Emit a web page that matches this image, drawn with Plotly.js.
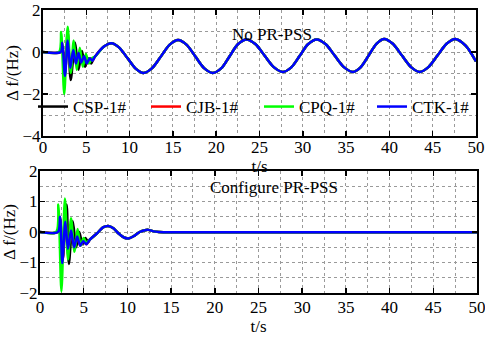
<!DOCTYPE html>
<html><head><meta charset="utf-8">
<script src="https://cdn.plot.ly/plotly-3.0.1.min.js"></script>
<style>body{margin:0;padding:0;background:#fff}#chart{width:485px;height:338px}</style>
</head><body><div id="chart"></div>
<script>
// ---------- Data ----------
const seriesNames = ["CSP-1#", "CJB-1#", "CPQ-1#", "CTK-1#"];
const seriesColors = ["#000000", "#ff0000", "#00ff00", "#0000ff"];

// Top panel (No PR-PSS): transient part of each unit
const topCSP_t = [0, 2.0, 2.25, 2.55, 2.85, 3.2, 3.7, 4.1, 4.5, 4.85, 5.2, 5.55, 5.9];
const topCSP_v = [0, 0, 0.3, -1.0, 0.95, -1.33, 0.45, -0.85, 0.05, -0.7, -0.3, -0.55, -0.25];
const topCJB_t = [0, 2.0, 2.22, 2.52, 2.85, 3.15, 3.5, 3.85, 4.15, 4.45, 4.8, 5.1, 5.45, 5.75];
const topCJB_v = [0, 0, 0.45, -1.1, 0.55, -0.75, 0.08, -0.55, -0.05, -0.5, -0.2, -0.55, -0.3, -0.4];
const topCPQ_t = [0, 1.85, 2.1, 2.45, 2.85, 3.2, 3.55, 3.9, 4.25, 4.6, 4.95, 5.3, 5.65];
const topCPQ_v = [0, 0, 0.95, -2.0, 1.2, -1.0, 0.55, -0.85, 0.2, -0.7, -0.1, -0.55, -0.3];
const topCTK_t = [0, 2.05, 2.23, 2.54, 2.85, 3.15, 3.5, 3.8, 4.1, 4.4, 4.75, 5.05, 5.4, 5.7];
const topCTK_v = [0, 0, 0.44, -1.14, 0.55, -0.75, 0.1, -0.55, -0.05, -0.5, -0.2, -0.55, -0.3, -0.42];
// Top panel: common low-frequency oscillation after ~6 s
const topTail_t = [6.0, 7.0, 7.9, 8.8, 9.75, 10.7, 11.6, 12.6, 13.6, 14.6, 15.6, 16.6, 17.6, 18.6, 19.6,
  20.6, 21.55, 22.5, 23.5, 24.55, 25.6, 26.65, 27.7, 28.7, 29.65, 30.6, 31.6, 32.65, 33.7, 34.75, 35.8,
  36.7, 37.6, 38.5, 39.4, 40.4, 41.45, 42.5, 43.5, 44.5, 45.55, 46.6, 47.6, 48.8, 50.0];
const topTail_v = [-0.22, 0.25, 0.42, 0.21, -0.29, -0.79, -1.0, -0.77, -0.22, 0.34, 0.57, 0.34, -0.22, -0.77, -1.0,
  -0.77, -0.2, 0.37, 0.6, 0.37, -0.18, -0.72, -0.95, -0.72, -0.18, 0.37, 0.6, 0.37, -0.18, -0.72, -0.95,
  -0.72, -0.17, 0.39, 0.62, 0.39, -0.17, -0.72, -0.95, -0.72, -0.17, 0.39, 0.62, 0.3, -0.45];

// Bottom panel (Configure PR-PSS): transient part of each unit
const botCSP_t = [0, 2.0, 2.3, 2.6, 3.05, 3.3, 3.75, 4.15, 4.5, 4.85, 5.2, 5.5];
const botCSP_v = [0, 0, 0.4, -0.9, 0.9, -1.05, 0.35, -0.5, 0.0, -0.4, -0.2, -0.33];
const botCJB_t = [0, 2.0, 2.3, 2.56, 2.9, 3.2, 3.55, 3.9, 4.25, 4.6, 4.95, 5.3];
const botCJB_v = [0, 0, 0.48, -1.0, 0.32, -0.55, 0.05, -0.5, -0.15, -0.45, -0.3, -0.4];
const botCPQ_t = [0, 1.85, 2.1, 2.45, 2.85, 3.2, 3.55, 3.95, 4.3, 4.65, 5.0, 5.3];
const botCPQ_v = [0, 0, 0.9, -1.95, 1.1, -0.9, 0.45, -0.65, 0.1, -0.45, -0.2, -0.35];
const botCTK_t = [0, 2.05, 2.3, 2.55, 2.9, 3.2, 3.55, 3.9, 4.25, 4.6, 4.95, 5.3];
const botCTK_v = [0, 0, 0.5, -1.02, 0.34, -0.55, 0.05, -0.5, -0.15, -0.45, -0.3, -0.4];
// Bottom panel: common damped tail
const botTail_t = [5.7, 6.5, 7.2, 7.8, 8.4, 9.0, 9.6, 10.1, 10.7, 11.4, 12.0, 12.4, 13.0, 13.6, 15, 20, 30, 40, 50];
const botTail_v = [-0.25, -0.05, 0.15, 0.2, 0.12, -0.05, -0.18, -0.21, -0.14, 0.0, 0.06, 0.07, 0.02, 0.0, -0.01, -0.01, -0.01, -0.01, -0.01];

// Axis ticks
const xTicks = [0, 5, 10, 15, 20, 25, 30, 35, 40, 45, 50];
const yTicksTop = [2, 0, -2, -4];
const yTicksBot = [2, 1, 0, -1, -2];

// ---------- Build traces ----------
const topSets = [[topCSP_t, topCSP_v], [topCJB_t, topCJB_v], [topCPQ_t, topCPQ_v], [topCTK_t, topCTK_v]];
const botSets = [[botCSP_t, botCSP_v], [botCJB_t, botCJB_v], [botCPQ_t, botCPQ_v], [botCTK_t, botCTK_v]];
const traces = [];
topSets.forEach((s, i) => {
  traces.push({x: s[0].concat(topTail_t), y: s[1].concat(topTail_v), xaxis: 'x', yaxis: 'y',
    type: 'scatter', mode: 'lines', name: seriesNames[i],
    line: {color: seriesColors[i], width: 2.5, shape: 'spline', smoothing: 0.8}, showlegend: true});
});
botSets.forEach((s, i) => {
  traces.push({x: s[0].concat(botTail_t), y: s[1].concat(botTail_v), xaxis: 'x2', yaxis: 'y2',
    type: 'scatter', mode: 'lines', name: seriesNames[i],
    line: {color: seriesColors[i], width: 2.5, shape: 'spline', smoothing: 0.8}, showlegend: false});
});

const FONT = '"Liberation Serif", "Times New Roman", Times, serif';
const FS = 17;
const gridStyle = {showgrid: true, gridcolor: '#9a9a9a', griddash: 'dot', gridwidth: 1};
function xAxis(domain, anchor, standoff, lblOff) {
  return Object.assign({domain: domain, anchor: anchor, range: [0, 50], tickvals: xTicks,
    ticks: 'inside', ticklen: 5, tickwidth: 1.5, tickcolor: '#000', mirror: 'ticks',
    showline: true, linecolor: '#000', linewidth: 2, zeroline: false,
    ticklabeloverflow: 'allow', ticklabelstandoff: lblOff,
    minor: {dtick: 2.5, showgrid: true, gridcolor: '#9a9a9a', griddash: 'dot', ticks: ''},
    tickfont: {family: FONT, size: FS, color: '#000'},
    title: {text: 't/s', font: {family: FONT, size: FS, color: '#000'}, standoff: standoff},
    automargin: false}, gridStyle);
}
function yAxis(domain, anchor, range, ticks, minorStep) {
  return Object.assign({domain: domain, anchor: anchor, range: range, tickvals: ticks,
    ticks: 'inside', ticklen: 5, tickwidth: 1.5, tickcolor: '#000', mirror: 'ticks',
    showline: true, linecolor: '#000', linewidth: 2, zeroline: false,
    ticklabeloverflow: 'allow', ticklabelstandoff: -3,
    minor: {dtick: minorStep, showgrid: true, gridcolor: '#9a9a9a', griddash: 'dot', ticks: ''},
    tickfont: {family: FONT, size: FS, color: '#000'},
    title: {text: 'Δ f/(Hz)', font: {family: FONT, size: FS, color: '#000'}, standoff: 0},
    automargin: false}, gridStyle);
}

const layout = {
  width: 485, height: 338,
  margin: {l: 0, r: 0, t: 0, b: 0},
  paper_bgcolor: '#fff', plot_bgcolor: '#fff',
  font: {family: FONT, color: '#000'},
  xaxis: xAxis([43 / 485, 476 / 485], 'y', 0, -5),
  yaxis: yAxis([(338 - 136) / 338, (338 - 10) / 338], 'x', [-4, 2], yTicksTop, 1),
  xaxis2: xAxis([40 / 485, 477 / 485], 'y2', 4, -2),
  yaxis2: yAxis([(338 - 293) / 338, (338 - 171) / 338], 'x2', [-2, 2], yTicksBot, 0.5),
  legend: {orientation: 'h', x: 52 / 485, xanchor: 'left', y: (338 - 107) / 338, yanchor: 'middle',
    bgcolor: 'rgba(0,0,0,0)', font: {family: FONT, size: FS, color: '#000'},
    entrywidth: 68, entrywidthmode: 'pixels', tracegroupgap: 0},
  annotations: [
    {text: 'No PR-PSS', xref: 'paper', yref: 'paper', x: 272 / 485, y: (338 - 23) / 338,
      showarrow: false, font: {family: FONT, size: FS, color: '#000'}},
    {text: 'Configure PR-PSS', xref: 'paper', yref: 'paper', x: 274 / 485, y: (338 - 187) / 338,
      showarrow: false, font: {family: FONT, size: FS, color: '#000'}}
  ]
};

Plotly.newPlot('chart', traces, layout, {staticPlot: true, displayModeBar: false});
</script>
</body></html>
